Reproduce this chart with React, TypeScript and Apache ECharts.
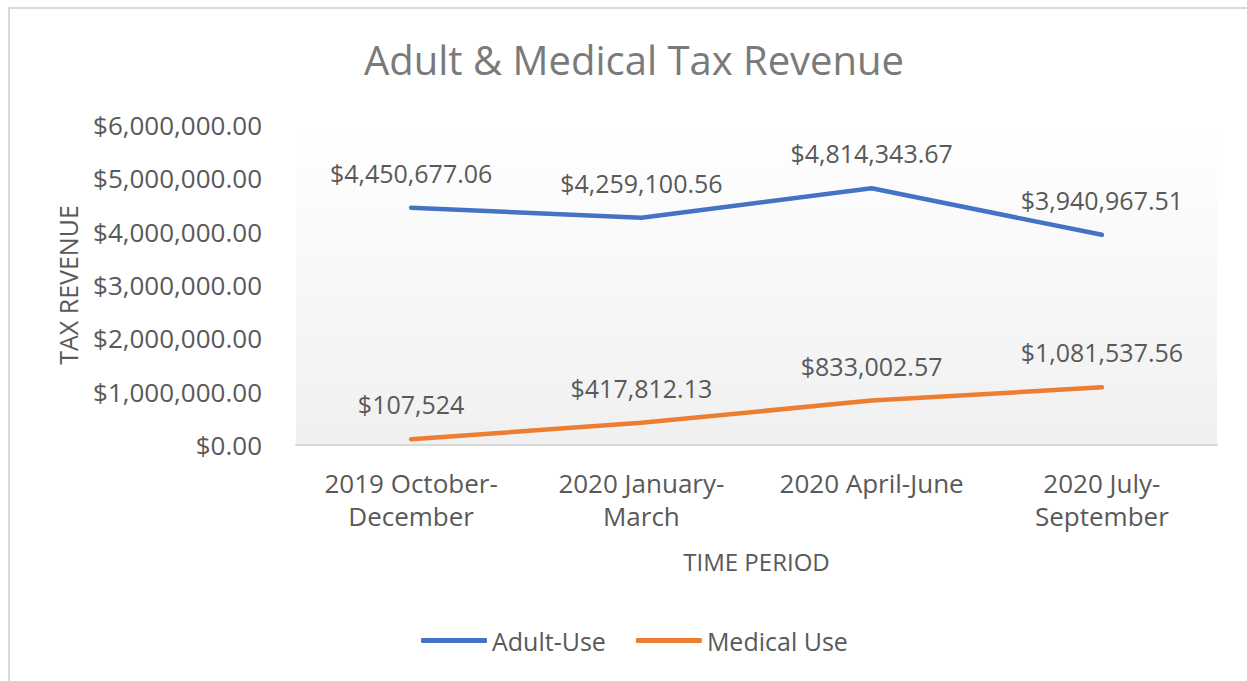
import React, { useEffect, useRef } from "react";
import * as echarts from "echarts";

const categories = ["2019 October-\nDecember", "2020 January-\nMarch", "2020 April-June", "2020 July-\nSeptember"];
const adultUse = [4450677.06, 4259100.56, 4814343.67, 3940967.51];
const medicalUse = [107524, 417812.13, 833002.57, 1081537.56];
const adultLabels = ["$4,450,677.06", "$4,259,100.56", "$4,814,343.67", "$3,940,967.51"];
const medicalLabels = ["$107,524", "$417,812.13", "$833,002.57", "$1,081,537.56"];
const yTicks = { min: 0, max: 6000000, interval: 1000000 };

const FONT = "'Open Sans', 'Noto Sans', sans-serif";
const TXT = "#595959";

export default function App() {
  const ref = useRef<HTMLDivElement>(null);
  useEffect(() => {
    if (!ref.current) return;
    const chart = echarts.init(ref.current, null, { renderer: "svg" });
    const fmtMoney = (v: number) =>
      "$" + v.toLocaleString("en-US", { minimumFractionDigits: 2, maximumFractionDigits: 2 });
    const labelStyle = (arr: string[]) => ({
      show: true,
      position: "top",
      distance: 22,
      fontFamily: FONT,
      fontSize: 25,
      color: TXT,
      formatter: (p: any) => arr[p.dataIndex],
    });
    chart.setOption({
      animation: false,
      backgroundColor: "#ffffff",
      textStyle: { fontFamily: FONT },
      title: {
        text: "Adult & Medical Tax Revenue",
        left: 629,
        top: 34,
        textAlign: "center",
        textStyle: { fontFamily: FONT, fontSize: 40, fontWeight: "normal", color: "#7a7a7a" },
      },
      graphic: [
        {
          type: "rect",
          z: -10,
          shape: { x: 9, y: 8, width: 1300, height: 720 },
          style: { fill: "none", stroke: "#d9d9d9", lineWidth: 2 },
        },
        {
          type: "rect",
          z: -9,
          shape: { x: 296, y: 125, width: 921, height: 320 },
          style: {
            fill: new echarts.graphic.LinearGradient(0, 0, 0, 1, [
              { offset: 0, color: "#ffffff" },
              { offset: 1, color: "#f0f0f0" },
            ]),
          },
        },
      ],
      legend: {
        left: 416,
        top: 623,
        icon: "roundRect",
        itemWidth: 66,
        itemHeight: 5,
        itemGap: 30,
        textStyle: { fontFamily: FONT, fontSize: 25, color: TXT },
        data: ["Adult-Use", "Medical Use"],
      },
      grid: { left: 296, right: 30, top: 125, bottom: 236, containLabel: false },
      xAxis: {
        type: "category",
        data: categories,
        boundaryGap: true,
        name: "TIME PERIOD",
        nameLocation: "middle",
        nameGap: 104,
        nameTextStyle: { fontFamily: FONT, fontSize: 24, color: TXT },
        axisLine: { show: true, lineStyle: { color: "#d9d9d9", width: 2 } },
        axisTick: { show: false },
        axisLabel: { fontFamily: FONT, fontSize: 26, color: TXT, lineHeight: 33, margin: 21, interval: 0 },
        splitLine: { show: false },
      },
      yAxis: {
        type: "value",
        min: yTicks.min,
        max: yTicks.max,
        interval: yTicks.interval,
        name: "TAX REVENUE",
        nameLocation: "middle",
        nameGap: 216,
        nameRotate: 90,
        nameTextStyle: { fontFamily: FONT, fontSize: 25, color: TXT },
        axisLine: { show: false },
        axisTick: { show: false },
        splitLine: { show: false },
        axisLabel: {
          fontFamily: FONT,
          fontSize: 26,
          color: TXT,
          margin: 34,
          formatter: (v: number) => fmtMoney(v),
        },
      },
      series: [
        {
          name: "Adult-Use",
          type: "line",
          data: adultUse,
          symbol: "circle",
          symbolSize: 1,
          showSymbol: true,
          lineStyle: { color: "#4472C4", width: 4.5, cap: "round", join: "round" },
          itemStyle: { color: "#4472C4" },
          label: labelStyle(adultLabels),
        },
        {
          name: "Medical Use",
          type: "line",
          data: medicalUse,
          symbol: "circle",
          symbolSize: 1,
          showSymbol: true,
          lineStyle: { color: "#ED7D31", width: 4.5, cap: "round", join: "round" },
          itemStyle: { color: "#ED7D31" },
          label: labelStyle(medicalLabels),
        },
      ],
    });
    return () => chart.dispose();
  }, []);
  return (
    <div
      ref={ref}
      style={{ position: "absolute", left: 0, top: 0, width: 1247, height: 681 }}
    />
  );
}
